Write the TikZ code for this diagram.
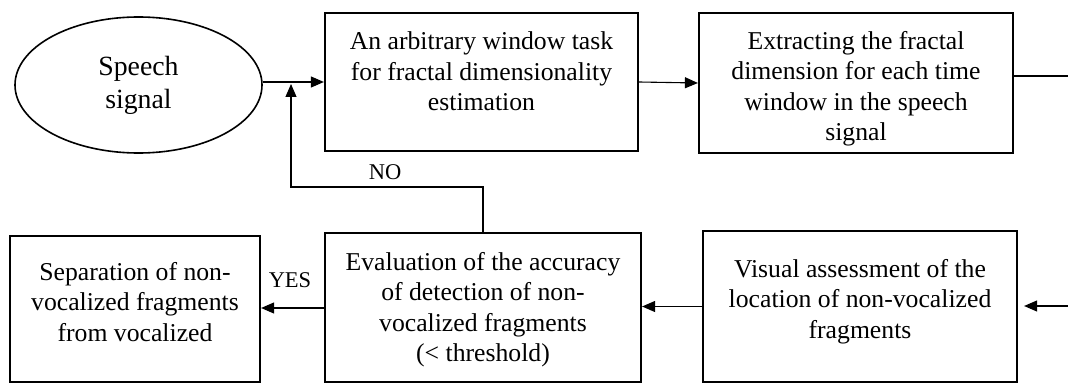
\documentclass[tikz,border=0pt]{standalone}
\usepackage{fontspec}
\setmainfont{Liberation Serif}
\usetikzlibrary{arrows.meta,shapes.geometric,calc}
\begin{document}
\begin{tikzpicture}[x=1pt,y=-1pt,
  stage/.style={draw=black,line width=2.2pt,rectangle,inner sep=0pt},
  txt/.style={align=center,inner sep=0pt,anchor=north,
              font=\fontsize{25.7}{30.5}\selectfont},
  flow/.style={draw=black,line width=1.1pt,
               -{Triangle[length=13pt,width=11pt]}},
  plain/.style={draw=black,line width=1.1pt},
  tag/.style={inner sep=0pt,font=\fontsize{22.5}{26}\selectfont}]
\useasboundingbox (0,0) rectangle (1068,385);

% start terminal
\node[ellipse,draw=black,line width=1.6pt,minimum width=247pt,minimum height=136pt,
      inner sep=0pt,align=center,font=\fontsize{27.8}{33}\selectfont]
      (sig) at (138.5,85) {Speech\\signal};

% upper row of stages
\node[stage,minimum width=313pt,minimum height=138pt] (win) at (481.5,82) {};
\node[txt] at ($(win.north)+(0,20)$)
  {An arbitrary window task\\for fractal dimensionality\\estimation};

\node[stage,minimum width=314pt,minimum height=140pt] (fd) at (856,83) {};
\node[txt] at ($(fd.north)+(0,19)$)
  {Extracting the fractal\\dimension for each time\\window in the speech\\signal};

% lower row of stages
\node[stage,minimum width=314pt,minimum height=151pt] (vis) at (860,306.5) {};
\node[txt] at ($(vis.north)+(0,29)$)
  {Visual assessment of the\\location of non-vocalized\\fragments};

\node[stage,minimum width=316pt,minimum height=149pt] (eva) at (483,307.5) {};
\node[txt] at ($(eva.north)+(0,20)$)
  {Evaluation of the accuracy\\of detection of non-\\vocalized fragments\\(< threshold)};

\node[stage,minimum width=250pt,minimum height=146pt] (sep) at (135,309) {};
\node[txt] at ($(sep.north)+(0,27)$)
  {Separation of non-\\vocalized fragments\\from vocalized};

% connectors
\draw[flow] (sig.east |- win.west) -- (win.west);
\draw[flow] (win.east) -- (fd.west);

\coordinate (outR) at (1068,76);
\draw[plain] (fd.east |- outR) -- (outR);

\coordinate (inR) at (1068,306);
\draw[flow,shorten >=6pt] (inR) -- (inR -| vis.east);

\draw[flow] (vis.west) -- (vis.west -| eva.east);
\draw[flow] (eva.west |- 0,308) -- (sep.east |- 0,308);

% feedback loop
\coordinate (fbTop) at (291,84);
\draw[flow] (eva.north) -- (eva.north |- 0,187) -- (291,187) -- (fbTop);

\node[tag] (no) at (385,172) {NO};
\node[tag] (yes) at (290,280) {YES};
\end{tikzpicture}
\end{document}
